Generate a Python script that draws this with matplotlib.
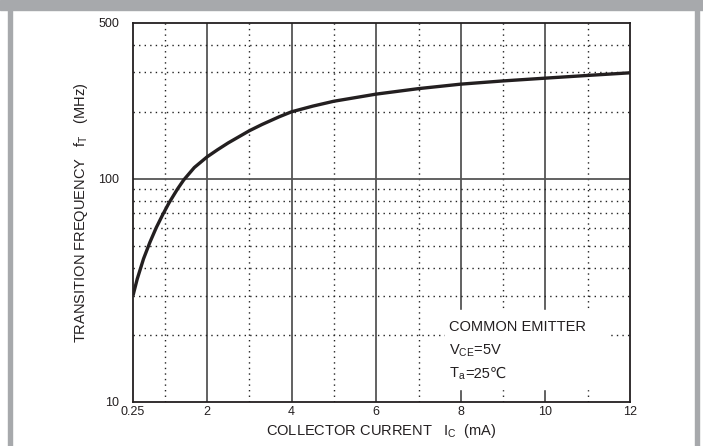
import matplotlib.pyplot as plt
import matplotlib.patches as patches
from matplotlib.ticker import FixedLocator, NullFormatter

plt.rcParams['font.family'] = ['Liberation Sans', 'DejaVu Sans']
plt.rcParams['mathtext.fontset'] = 'custom'
plt.rcParams['mathtext.rm'] = 'Liberation Sans'
plt.rcParams['mathtext.it'] = 'Liberation Sans'

# collector current (mA) vs transition frequency (MHz)
ic = [0.25, 0.35, 0.5, 0.65, 0.8, 0.95, 1.1, 1.3, 1.45, 1.7, 2.0, 2.25, 2.5, 3.0, 3.3, 3.7,
      4.0, 4.5, 5.0, 6.0, 7.0, 8.0, 9.0, 10.0, 11.0, 12.0]
ft = [30, 35.6, 43.9, 52, 60.5, 69, 78, 90, 99, 112.5, 125.5, 135.2, 145, 164.4, 175.4, 189.7,
      200, 212, 223, 240, 254, 266, 275, 283, 291, 299]

xticks = [0.25, 2, 4, 6, 8, 10, 12]
xticklabels = ["0.25", "2", "4", "6", "8", "10", "12"]
xdotted = [1, 3, 5, 7, 9, 11]
yticks = [10, 100, 500]
ydotted = [20, 30, 40, 50, 60, 70, 80, 90, 200, 300, 400]

fig = plt.figure(figsize=(7.03, 4.46), dpi=100)

# gray frame around the chart
fig.patches.append(patches.Rectangle((0, 1 - 10 / 446), 1, 10 / 446, transform=fig.transFigure,
                                     color="#a7a9ac", zorder=0))
fig.patches.append(patches.Rectangle((8 / 703, 0), 4 / 703, 1, transform=fig.transFigure,
                                     color="#a7a9ac", zorder=0))
fig.patches.append(patches.Rectangle((695 / 703, 0), 4 / 703, 1, transform=fig.transFigure,
                                     color="#a7a9ac", zorder=0))

ax = fig.add_axes([133 / 703, 44 / 446, 497 / 703, 379 / 446])
ax.set_yscale("log")
ax.set_xlim(0.25, 12)
ax.set_ylim(10, 500)

for x in xticks[1:-1]:
    ax.axvline(x, color="#555555", lw=1.3, zorder=1)
for x in xdotted:
    ax.axvline(x, color="#222222", lw=1.0, ls=(0, (1, 3)), zorder=1)
ax.axhline(100, color="#555555", lw=1.3, zorder=1)
for y in ydotted:
    ax.axhline(y, color="#222222", lw=1.0, ls=(0, (1, 3)), zorder=1)

ax.plot(ic, ft, color="#231f20", lw=2.4, zorder=3, solid_capstyle="butt", solid_joinstyle="round")

ax.xaxis.set_major_locator(FixedLocator(xticks))
ax.set_xticklabels(xticklabels)
ax.yaxis.set_major_locator(FixedLocator(yticks))
ax.yaxis.set_minor_locator(FixedLocator(ydotted))
ax.yaxis.set_major_formatter(plt.FixedFormatter(["10", "100", "500"]))
ax.yaxis.set_minor_formatter(NullFormatter())
ax.tick_params(which="both", length=0, labelsize=9, colors="#231f20", pad=3)
ax.tick_params(axis="y", pad=10)
for s in ax.spines.values():
    s.set_color("#231f20")
    s.set_linewidth(1.3)

ax.set_xlabel(r"COLLECTOR CURRENT   $\mathregular{I_C}$  (mA)", fontsize=10.5, color="#231f20", labelpad=3)
ax.set_ylabel(r"TRANSITION FREQUENCY   $\mathregular{f_T}$   (MHz)", fontsize=10.5, color="#231f20", labelpad=6)

# white patch behind the condition note (grid lines stop there)
ax.add_patch(patches.Rectangle((445 / 703, 1 - 389 / 446), 162 / 703, 79 / 446,
                               transform=fig.transFigure, color="white", zorder=2))

note = dict(transform=fig.transFigure, fontsize=10.5, color="#231f20", va="baseline", ha="left", zorder=4)
ax.text(449 / 703, 1 - 331 / 446, "COMMON EMITTER", **note)
ax.text(449 / 703, 1 - 355 / 446, r"$\mathregular{V_{CE}}$=5V", **note)
t = ax.text(449 / 703, 1 - 378 / 446, r"$\mathregular{T_a}$", **note)
fig.canvas.draw()
x1 = t.get_window_extent().x1 / fig.bbox.width
ax.text(x1, 1 - 378 / 446, "=25℃", **note)

fig.savefig("out.png", dpi=100)
